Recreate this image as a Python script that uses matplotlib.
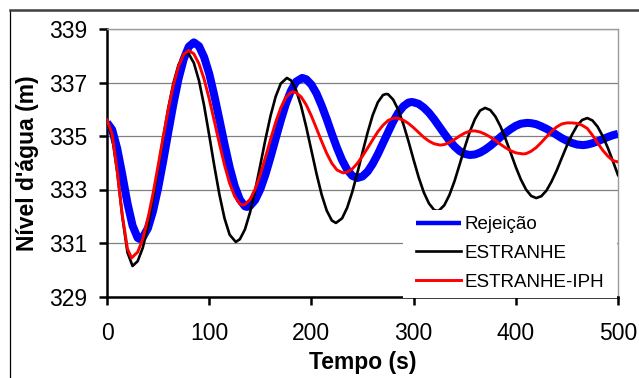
import matplotlib
matplotlib.use("Agg")
import matplotlib.pyplot as plt
from matplotlib.lines import Line2D
from matplotlib.patches import Rectangle

plt.rcParams['font.family'] = ['Liberation Sans', 'DejaVu Sans']

# ---- data ----
t_rej = [0, 5, 10, 15, 20, 25, 30, 32, 35, 40, 45, 50, 55, 60, 65, 70, 75, 80, 85,
         90, 95, 100, 105, 110, 115, 120, 125, 130, 135, 137, 140, 145, 150, 155, 160,
         165, 170, 175, 180, 185, 191, 195, 200, 205, 210, 215, 220, 225, 230, 235, 240,
         245, 250, 255, 260, 265, 270, 275, 280, 285, 290, 295, 298, 300, 305, 310, 315,
         320, 325, 330, 335, 340, 345, 350, 355, 360, 365, 370, 375, 380, 385, 390, 395,
         400, 405, 411, 415, 420, 425, 430, 435, 440, 445, 450, 455, 460, 466, 470, 475,
         480, 485, 490, 495, 500]
v_rej = [335.50, 335.24, 334.53, 333.54, 332.49, 331.65, 331.19, 331.15, 331.21, 331.55,
         332.19, 333.05, 334.07, 335.15, 336.21, 337.14, 337.87, 338.34, 338.50,
         338.36, 337.95, 337.33, 336.51, 335.61, 334.69, 333.83, 333.12, 332.62, 332.37,
         332.35, 332.39, 332.61, 333.01, 333.56, 334.21, 334.90, 335.58, 336.20, 336.69,
         337.03, 337.17, 337.12, 336.92, 336.59, 336.14, 335.63, 335.08, 334.56, 334.10,
         333.74, 333.51, 333.43, 333.49, 333.67, 333.96, 334.32, 334.73, 335.14, 335.54,
         335.87, 336.11, 336.25, 336.27, 336.26, 336.20, 336.06, 335.87, 335.63, 335.36,
         335.09, 334.83, 334.61, 334.44, 334.33, 334.29, 334.31, 334.38, 334.49, 334.63,
         334.79, 334.96, 335.12, 335.26, 335.38, 335.46, 335.49, 335.48, 335.44, 335.36,
         335.27, 335.16, 335.04, 334.92, 334.82, 334.74, 334.68, 334.66, 334.68, 334.73,
         334.80, 334.88, 334.96, 335.03, 335.08]

t_est = [0, 5, 10, 15, 20, 25, 30, 35, 40, 45, 50, 55, 60, 65, 70, 75, 78, 80, 85, 90,
         95, 100, 105, 110, 115, 120, 126, 130, 135, 140, 145, 150, 155, 160, 165, 170,
         176, 180, 185, 190, 195, 200, 205, 210, 215, 220, 224, 230, 235, 240, 245, 250,
         255, 260, 265, 270, 273, 275, 280, 285, 290, 295, 300, 305, 310, 315, 320, 323,
         325, 330, 335, 340, 345, 350, 355, 360, 365, 370, 375, 380, 385, 390, 395, 400,
         405, 410, 415, 420, 425, 430, 435, 440, 445, 450, 455, 460, 465, 470, 475, 480,
         485, 490, 495, 500]
v_est = [335.50, 334.99, 333.65, 331.99, 330.65, 330.14, 330.32, 330.82, 331.61, 332.63,
         333.77, 334.94, 336.05, 336.98, 337.66, 338.04, 338.10, 338.07, 337.73, 337.07,
         336.14, 335.03, 333.88, 332.81, 331.92, 331.31, 331.04, 331.14, 331.51, 332.15,
         332.98, 333.91, 334.87, 335.75, 336.47, 336.96, 337.17, 337.08, 336.72, 336.11,
         335.33, 334.46, 333.59, 332.81, 332.21, 331.84, 331.75, 331.92, 332.32, 332.91,
         333.62, 334.39, 335.13, 335.78, 336.26, 336.53, 336.57, 336.56, 336.36, 335.98,
         335.44, 334.80, 334.11, 333.45, 332.89, 332.48, 332.24, 332.20, 332.22, 332.41,
         332.79, 333.31, 333.93, 334.57, 335.16, 335.63, 335.95, 336.05, 335.97, 335.73,
         335.36, 334.89, 334.37, 333.84, 333.37, 333.00, 332.76, 332.68, 332.75, 332.96,
         333.30, 333.71, 334.18, 334.64, 335.05, 335.39, 335.60, 335.67, 335.58, 335.35,
         335.00, 334.56, 334.06, 333.54]

t_iph = [0, 5, 10, 15, 20, 24, 30, 35, 40, 45, 50, 55, 60, 65, 70, 75, 80, 85, 90, 95,
         100, 105, 110, 115, 120, 125, 130, 133, 135, 140, 145, 150, 155, 160, 165, 170,
         175, 180, 182, 185, 190, 195, 200, 205, 210, 215, 220, 225, 231, 235, 240, 245,
         250, 255, 260, 265, 270, 275, 280, 282, 285, 290, 295, 300, 305, 310, 315, 320,
         326, 330, 335, 340, 345, 350, 355, 358, 360, 365, 370, 375, 380, 385, 390, 395,
         400, 407, 410, 415, 420, 425, 430, 435, 440, 445, 450, 455, 460, 465, 470, 475,
         480, 485, 490, 495, 500]
v_iph = [335.60, 335.07, 333.69, 332.03, 330.79, 330.44, 330.66, 331.15, 331.91, 332.84,
         333.89, 334.97, 336.00, 336.91, 337.61, 338.05, 338.20, 338.07, 337.70, 337.13,
         336.39, 335.56, 334.71, 333.91, 333.23, 332.74, 332.46, 332.42, 332.44, 332.63,
         333.02, 333.56, 334.20, 334.87, 335.51, 336.05, 336.44, 336.63, 336.65, 336.62,
         336.46, 336.16, 335.75, 335.28, 334.80, 334.35, 333.98, 333.73, 333.62, 333.65,
         333.77, 333.98, 334.25, 334.55, 334.86, 335.16, 335.40, 335.58, 335.66, 335.67,
         335.66, 335.59, 335.47, 335.31, 335.13, 334.95, 334.81, 334.71, 334.66, 334.68,
         334.76, 334.87, 335.00, 335.11, 335.18, 335.19, 335.19, 335.15, 335.07, 334.96,
         334.83, 334.69, 334.56, 334.45, 334.37, 334.33, 334.34, 334.43, 334.57, 334.76,
         334.97, 335.17, 335.34, 335.45, 335.49, 335.49, 335.47, 335.40, 335.28, 335.03,
         334.74, 334.47, 334.25, 334.08, 334.03]

labels = ["Rejeição", "ESTRANHE", "ESTRANHE-IPH"]
x_ticks = [0, 100, 200, 300, 400, 500]
y_ticks = [329, 331, 333, 335, 337, 339]

# ---- figure ----
W, H = 639, 378
fig = plt.figure(figsize=(W / 100, H / 100), dpi=100)
L, R, T, B = 107, 618, 29, 296.5
ax = fig.add_axes([L / W, 1 - B / H, (R - L) / W, (B - T) / H])

ax.plot(t_rej, v_rej, color='#0000FF', lw=5.8, solid_capstyle='butt', zorder=3, label=labels[0])
ax.plot(t_est, v_est, color='black', lw=1.9, zorder=3.1, label=labels[1])
ax.plot(t_iph, v_iph, color='#FF0000', lw=2.1, zorder=3.2, label=labels[2])

ax.set_xlim(0, 500)
ax.set_ylim(329, 339)
ax.set_xticks(x_ticks)
ax.set_yticks(y_ticks)
ax.yaxis.grid(True, color='#808080', lw=0.9)
ax.set_axisbelow(True)

for s in ['left', 'bottom']:
    ax.spines[s].set_color('black')
    ax.spines[s].set_linewidth(1.8)
for s in ['top', 'right']:
    ax.spines[s].set_color('#9a9a9a')
    ax.spines[s].set_linewidth(1.0)

ax.tick_params(axis='both', direction='out', length=6, width=1.8, labelsize=16.5, color='black')
ax.tick_params(axis='x', pad=12)
ax.tick_params(axis='y', pad=8)

# white legend background (covers grid line like reference)
ax.add_patch(Rectangle(((403 - L) / (R - L), (B - 297.5) / (B - T)),
                       (617 - 403) / (R - L), (297.5 - 210) / (B - T),
                       transform=ax.transAxes, facecolor='white', edgecolor='none',
                       zorder=4, clip_on=False))
leg = ax.legend(loc='upper left', bbox_to_anchor=((416 - L) / (R - L), (B - 216) / (B - T)),
                frameon=False, fontsize=13.5, handlelength=2.4, handletextpad=0.2,
                labelspacing=0.62, borderpad=0, borderaxespad=0)
leg.set_zorder(5)
leg.legend_handles[0].set_linewidth(3.2)

fig.text(363 / W, 1 - 362 / H, "Tempo (s)", ha='center', va='center',
         fontsize=16.5, fontweight='bold')
fig.text(28 / W, 1 - 163 / H, "Nível d'água (m)", ha='center', va='center',
         rotation=90, fontsize=16.5, fontweight='bold')

# outer chart frame (partially cropped in the reference)
fig.add_artist(Line2D([9.5 / W, 9.5 / W], [0, 1 - 10 / H], transform=fig.transFigure,
                      color='black', lw=0.9))
fig.add_artist(Line2D([9.5 / W, 1], [1 - 10 / H, 1 - 10 / H], transform=fig.transFigure,
                      color='#404040', lw=1.8))

fig.savefig("out.png", dpi=100)
